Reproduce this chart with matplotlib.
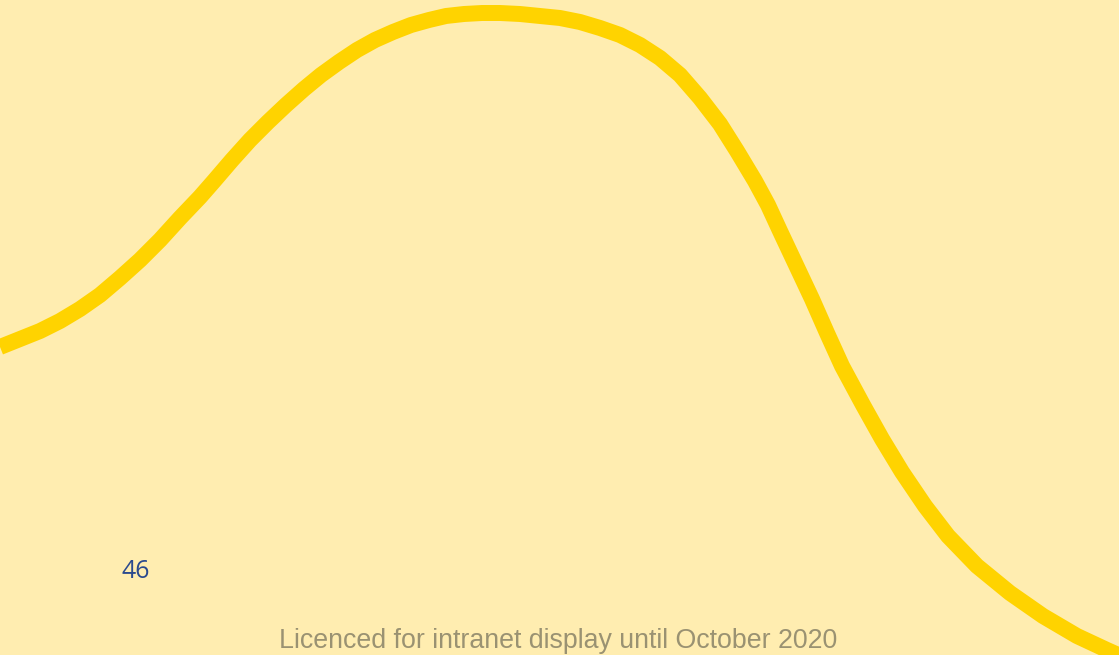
import matplotlib
matplotlib.use("Agg")
import matplotlib.pyplot as plt

curve_x = [0, 20, 40, 60, 80, 100, 120, 140, 160, 180, 200, 214, 232, 250,
           268, 286, 304, 321, 339, 357, 375, 393, 411, 429, 446, 464, 482,
           500, 520, 540, 560, 580, 600, 620, 640, 660, 680, 700, 720, 737,
           755, 768, 780, 796, 812, 827, 842, 863, 882, 902, 925, 948, 977,
           1010, 1043, 1077, 1107, 1125]
curve_y = [347, 339, 331, 321, 309, 295, 278, 260, 240, 218, 197, 181, 160,
           140, 122, 105, 89, 75, 62, 50, 40, 32, 25, 20, 16, 14, 13,
           13, 14, 16, 18, 22, 28, 35, 45, 58, 75, 98, 124, 151,
           181, 205, 231, 265, 299, 333, 366, 405, 439, 472, 506, 536, 566,
           593, 616, 636, 650, 658]

page_number = "46"
footer = "Licenced for intranet display until October 2020"

BG = "#FFEDB0"
CURVE = "#FFD300"

fig = plt.figure(figsize=(11.19, 6.55), dpi=100)
fig.patch.set_facecolor(BG)
ax = fig.add_axes([0, 0, 1, 1])
ax.set_facecolor(BG)
ax.set_xlim(0, 1119)
ax.set_ylim(655, 0)
ax.axis("off")

ax.plot(curve_x, curve_y, color=CURVE, linewidth=11.5,
        solid_joinstyle="round", solid_capstyle="butt")

ax.text(121, 578, page_number, fontsize=18, color="#2B4A8E",
        family="Open Sans", ha="left", va="baseline")
ax.text(558.5, 648, footer, fontsize=19.3, color="#9A9272",
        family="Liberation Sans", ha="center", va="baseline")

fig.savefig("out.png", dpi=100, facecolor=BG)
